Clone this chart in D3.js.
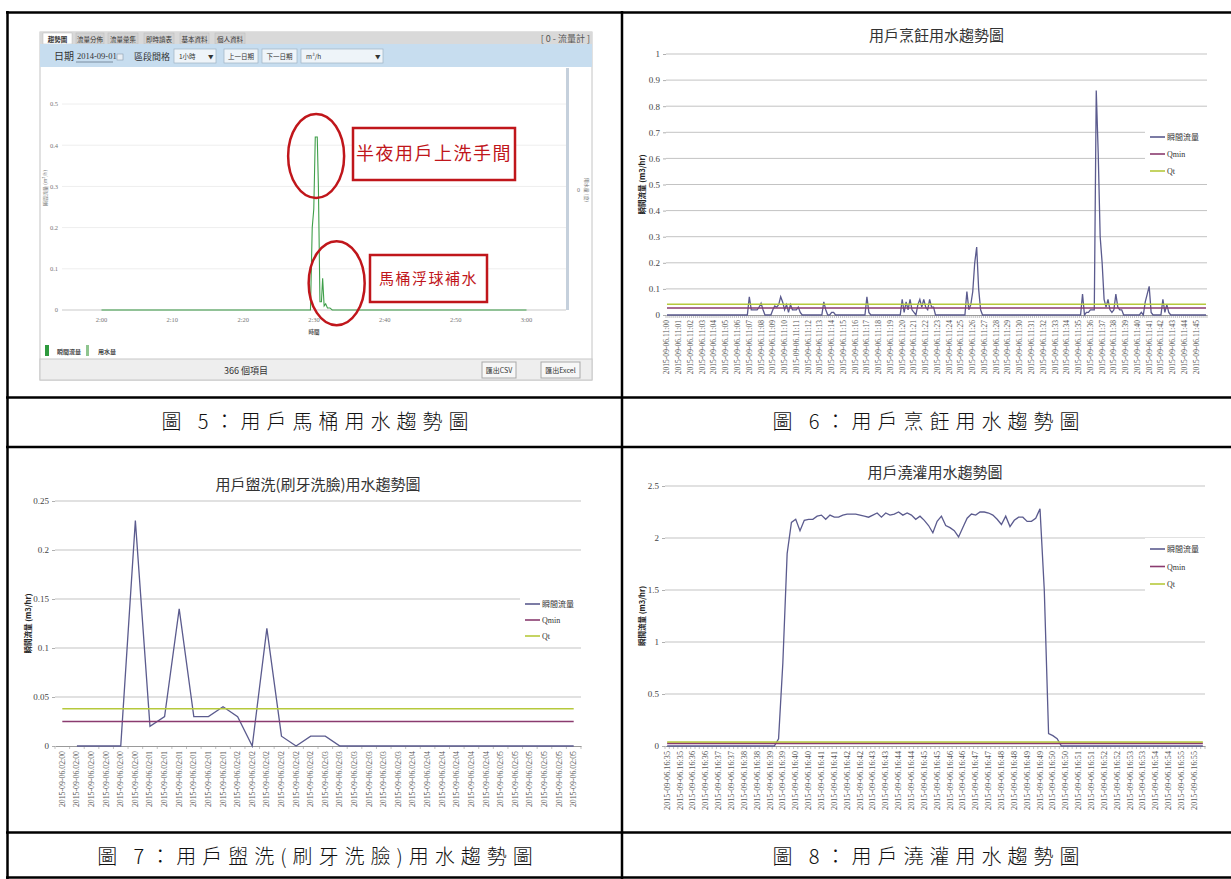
<!DOCTYPE html>
<html>
<head>
<meta charset="utf-8">
<script src="https://cdn.jsdelivr.net/npm/d3@7"></script>
<style>
  body { margin: 0; background: #fff; }
  svg { display: block; }
</style>
</head>
<body>
<svg width="1231" height="879"></svg>
<script>
var CJK = "'Noto Sans CJK TC', 'Noto Sans', sans-serif";
var SERIF = "'Liberation Serif', 'DejaVu Serif', serif";

// ---------- 圖5 data (web screenshot) ----------
var tabNames = ["趨勢圖", "流量分佈", "流量彙集", "即時讀表", "基本資料", "個人資料"];
var toiletTickMinutes = [0, 10, 20, 30, 40, 50, 60];
var toiletTickLabels = ["2:00", "2:10", "2:20", "2:30", "2:40", "2:50", "3:00"];
var toiletTicksY = [0, 0.1, 0.2, 0.3, 0.4, 0.5];
var toiletMinutes = [0, 29.5, 29.75, 29.97, 30.18, 30.46, 30.62, 30.84, 31.05, 31.22, 31.43, 31.65, 31.9, 32.25, 32.57, 60];
var toiletFlow    = [0, 0,    0.2,   0.245, 0.42,  0.42,  0.3,   0.02,  0.02,  0.077, 0.01,  0.015, 0.005, 0.005, 0,     0];
var toiletNotes = ["半夜用戶上洗手間", "馬桶浮球補水"];
var toiletNoteMinutes = [30.3, 33.2];
var toiletNoteValues = [0.374, 0.065];

// ---------- shared ----------
var seriesNames = ["瞬間流量", "Qmin", "Qt"];
var datePrefix = "2015-09-06.";

// ---------- 圖6 用戶烹飪 ----------
var cookTicksY = [0, 0.1, 0.2, 0.3, 0.4, 0.5, 0.6, 0.7, 0.8, 0.9, 1];
var cookLabels = ["11:00","11:01","11:02","11:03","11:04","11:05","11:06","11:07","11:08","11:09",
  "11:10","11:11","11:12","11:13","11:14","11:15","11:16","11:17","11:18","11:19",
  "11:20","11:21","11:22","11:23","11:24","11:25","11:26","11:27","11:28","11:29",
  "11:30","11:31","11:32","11:33","11:34","11:35","11:36","11:37","11:38","11:39",
  "11:40","11:41","11:42","11:43","11:44","11:45"];
var cookFlow = [
  0,0,0,0,0,0, 0,0,0,0,0,0,
  0,0,0,0,0,0, 0,0,0,0,0,0,
  0,0,0,0,0,0, 0,0,0,0,0,0,
  0,0,0,0,0,0, 0.07,0.02,0.02,0.02,0.02,0.03,
  0.045,0.02,0,0,0,0, 0.02,0.035,0.03,0.04,0.07,0.05,
  0.02,0.04,0.01,0.04,0.02,0.02, 0.02,0.03,0.01,0,0,0,
  0,0,0,0,0,0, 0,0,0.05,0.02,0,0,
  0.01,0.01,0,0,0,0, 0,0,0,0,0,0,
  0,0,0,0,0,0, 0.07,0.01,0,0,0,0,
  0,0,0,0,0,0, 0,0,0,0,0,0,
  0.06,0.01,0.05,0.02,0.06,0.02, 0.01,0,0.04,0.06,0.03,0.06,
  0.03,0.02,0.06,0.03,0.03,0, 0,0,0,0,0,0,
  0,0,0,0,0,0, 0,0,0,0.09,0.02,0.04,
  0.09,0.2,0.26,0.1,0.02,0, 0,0,0,0,0,0,
  0,0,0,0,0,0, 0,0,0,0,0,0,
  0,0,0,0,0,0, 0,0,0,0,0,0,
  0,0,0,0,0,0, 0,0,0,0,0,0,
  0,0,0,0,0,0, 0,0,0.08,0,0.01,0.01,
  0.02,0.02,0.02,0.86,0.62,0.3, 0.2,0.06,0.03,0.06,0.02,0.01,
  0.02,0.08,0.03,0.02,0.02,0, 0,0,0,0,0,0,
  0,0,0.01,0,0.05,0.08, 0.11,0.01,0,0,0,0,
  0,0.06,0.01,0.04,0.01,0, 0,0,0,0,0,0,
  0,0,0,0,0,0, 0,0,0,0,0,0
];
var cookQmin = 0.027;
var cookQt = 0.041;

// ---------- 圖7 用戶盥洗 ----------
var washTicksY = [0, 0.05, 0.1, 0.15, 0.2, 0.25];
var washLabels = ["02:00","02:00","02:00","02:00","02:00","02:00",
  "02:01","02:01","02:01","02:01","02:01","02:01",
  "02:02","02:02","02:02","02:02","02:02","02:02",
  "02:03","02:03","02:03","02:03","02:03","02:03",
  "02:04","02:04","02:04","02:04","02:04","02:04",
  "02:05","02:05","02:05","02:05","02:05","02:05"];
var washFlow = [null,0,0,0,0,0.23,0.02,0.03,0.14,0.03,0.03,0.04,0.03,0,0.12,0.01,0,0.01,0.01,0,
  0,0,0,0,0,0,0,0,0,0,0,0,0,0,0,0];
var washQmin = 0.025;
var washQt = 0.038;

// ---------- 圖8 用戶澆灌 ----------
var gardenTicksY = [0, 0.5, 1, 1.5, 2, 2.5];
var gardenLabels = ["16:35","16:35","16:36","16:36","16:37","16:37","16:38","16:38","16:39","16:39",
  "16:40","16:40","16:41","16:41","16:42","16:42","16:43","16:43","16:44","16:44",
  "16:45","16:45","16:46","16:46","16:47","16:47","16:48","16:48","16:49","16:49",
  "16:50","16:50","16:51","16:51","16:52","16:52","16:53","16:53","16:54","16:54",
  "16:55","16:55"];
var gardenFlow = [
  0,0,0,0,0,0, 0,0,0,0,0,0,
  0,0,0,0,0,0, 0,0,0,0,0,0,
  0,0,0.07,0.8,1.85,2.15, 2.18,2.07,2.17,2.18,2.18,2.21,
  2.22,2.18,2.22,2.2,2.2,2.22, 2.23,2.23,2.23,2.22,2.21,2.2,
  2.22,2.24,2.2,2.24,2.22,2.23, 2.25,2.22,2.24,2.22,2.18,2.21,
  2.17,2.12,2.05,2.16,2.21,2.12, 2.1,2.07,2.01,2.1,2.19,2.23,
  2.22,2.25,2.25,2.24,2.22,2.18, 2.13,2.21,2.11,2.17,2.2,2.2,
  2.16,2.16,2.19,2.28,1.5,0.12, 0.1,0.07,0,0,0,0,
  0,0,0,0,0,0, 0,0,0,0,0,0,
  0,0,0,0,0,0, 0,0,0,0,0,0,
  0,0,0,0,0,0
];
var gardenQmin = 0.025;
var gardenQt = 0.038;

var captions = ["圖 5：用戶馬桶用水趨勢圖", "圖 6：用戶烹飪用水趨勢圖", "圖 7：用戶盥洗(刷牙洗臉)用水趨勢圖", "圖 8：用戶澆灌用水趨勢圖"];

var svg = d3.select("svg");
svg.append("rect").attr("width", 1231).attr("height", 879).attr("fill", "#fff");

// ================= 圖5 screenshot panel =================
function toiletPanel() {
  var p = svg.append("g");
  p.append("rect").attr("x", 40).attr("y", 32).attr("width", 552).attr("height", 348)
    .attr("fill", "#fff").attr("stroke", "#c4c4c4");
  // tab bar
  p.append("rect").attr("x", 40).attr("y", 32).attr("width", 552).attr("height", 12).attr("fill", "#d9d9d9");
  var tabX = [43, 76, 108, 144, 180, 215];
  var tabW = [29, 28, 30, 30, 29, 30];
  p.selectAll(".tab").data(tabNames).enter().append("rect")
    .attr("x", function(d, i) { return tabX[i]; }).attr("y", 33)
    .attr("width", function(d, i) { return tabW[i]; }).attr("height", 11)
    .attr("fill", function(d, i) { return i === 0 ? "#ffffff" : "#d2d2d2"; })
    .attr("stroke", "#bdbdbd").attr("stroke-width", 0.5);
  p.selectAll(".tabt").data(tabNames).enter().append("text")
    .attr("x", function(d, i) { return tabX[i] + tabW[i] / 2; }).attr("y", 41.5)
    .attr("text-anchor", "middle").attr("font-family", CJK).attr("font-size", 6.5)
    .attr("font-weight", function(d, i) { return i === 0 ? "bold" : "normal"; })
    .attr("fill", "#333").text(function(d) { return d; });
  p.append("text").attr("x", 590).attr("y", 42).attr("text-anchor", "end")
    .attr("font-family", CJK).attr("font-size", 9).attr("fill", "#555").text("[ 0 - 流量計 ]");

  // toolbar
  p.append("rect").attr("x", 40).attr("y", 44).attr("width", 552).attr("height", 23).attr("fill", "#c7ddef");
  p.append("text").attr("x", 54).attr("y", 59.5).attr("font-family", CJK).attr("font-size", 10)
    .attr("fill", "#333").text("日期");
  p.append("text").attr("x", 77).attr("y", 59).attr("font-family", SERIF).attr("font-size", 8.5)
    .attr("fill", "#333").text("2014-09-01");
  p.append("line").attr("x1", 76).attr("x2", 113).attr("y1", 62).attr("y2", 62).attr("stroke", "#7a8da0");
  p.append("rect").attr("x", 117).attr("y", 54).attr("width", 6).attr("height", 6)
    .attr("fill", "#e8eef4").attr("stroke", "#8b9bab").attr("stroke-width", 0.6);
  p.append("text").attr("x", 134).attr("y", 59.5).attr("font-family", CJK).attr("font-size", 9)
    .attr("fill", "#333").text("區段間格");
  var boxes = [[174, 42, "1小時", true], [224, 34, "上一日期", false], [262, 35, "下一日期", false], [301, 82, "m³/h", true]];
  boxes.forEach(function(b) {
    p.append("rect").attr("x", b[0]).attr("y", 49).attr("width", b[1]).attr("height", 14)
      .attr("fill", "#eef4f9").attr("stroke", "#9fb2c4").attr("stroke-width", 0.7);
    p.append("text").attr("x", b[3] ? b[0] + 5 : b[0] + b[1] / 2).attr("y", 58.5)
      .attr("text-anchor", b[3] ? "start" : "middle").attr("font-family", CJK).attr("font-size", 6.5)
      .attr("fill", "#333").text(b[2]);
    if (b[3]) p.append("text").attr("x", b[0] + b[1] - 8).attr("y", 58.5).attr("font-family", CJK)
      .attr("font-size", 5.5).attr("fill", "#333").text("▼");
  });

  var tx = d3.scaleLinear().domain([0, 60]).range([101.5, 526.5]);
  var ty = d3.scaleLinear().domain([0, 0.5]).range([310, 104]);

  p.selectAll(".tg").data(toiletTicksY).enter().append("line")
    .attr("x1", 62).attr("x2", 566).attr("y1", function(d) { return ty(d); }).attr("y2", function(d) { return ty(d); })
    .attr("stroke", function(d) { return d === 0 ? "#c9c9c9" : "#eeeeee"; });
  p.selectAll(".tyl").data(toiletTicksY).enter().append("text")
    .attr("x", 58).attr("y", function(d) { return ty(d) + 2.3; }).attr("text-anchor", "end")
    .attr("font-family", SERIF).attr("font-size", 6.5).attr("fill", "#777").text(function(d) { return d; });
  p.selectAll(".txl").data(toiletTickMinutes).enter().append("text")
    .attr("x", function(d) { return tx(d); }).attr("y", 322).attr("text-anchor", "middle")
    .attr("font-family", SERIF).attr("font-size", 6.5).attr("fill", "#777")
    .text(function(d, i) { return toiletTickLabels[i]; });
  p.append("text").attr("x", tx(30)).attr("y", 334).attr("text-anchor", "middle")
    .attr("font-family", CJK).attr("font-size", 5.5).attr("font-weight", "bold").attr("fill", "#555").text("時間");
  p.append("text").attr("transform", "translate(47,188) rotate(-90)").attr("text-anchor", "middle")
    .attr("font-family", CJK).attr("font-size", 5).attr("fill", "#777").text("瞬間流量 (m³/h)");
  // right axis
  p.append("rect").attr("x", 566).attr("y", 68).attr("width", 3).attr("height", 242).attr("fill", "#c5d0dc");
  p.append("text").attr("x", 577).attr("y", 192).attr("font-family", SERIF).attr("font-size", 6)
    .attr("fill", "#777").text("0");
  p.append("text").attr("transform", "translate(585,190) rotate(90)").attr("text-anchor", "middle")
    .attr("font-family", CJK).attr("font-size", 5).attr("fill", "#777").text("用水量 (度)");

  var tline = d3.line().x(function(d, i) { return tx(toiletMinutes[i]); }).y(function(d) { return ty(d); });
  p.append("path").datum(toiletFlow).attr("d", tline).attr("fill", "none")
    .attr("stroke", "#3f9f4a").attr("stroke-width", 1.1);

  // annotations
  var boxRect = [[353, 128, 162, 52], [370, 255, 117, 47]];
  var noteSize = [18, 15];
  toiletNotes.forEach(function(t, i) {
    p.append("ellipse").attr("cx", tx(toiletNoteMinutes[i])).attr("cy", ty(toiletNoteValues[i]))
      .attr("rx", 28).attr("ry", 42).attr("fill", "none").attr("stroke", "#c0161b").attr("stroke-width", 2.5);
    var b = boxRect[i];
    p.append("rect").attr("x", b[0]).attr("y", b[1]).attr("width", b[2]).attr("height", b[3])
      .attr("fill", "#fff").attr("stroke", "#c0161b").attr("stroke-width", 2.5);
    p.append("text").attr("x", b[0] + b[2] / 2).attr("y", b[1] + b[3] / 2 + noteSize[i] * 0.36)
      .attr("text-anchor", "middle").attr("font-family", CJK).attr("font-size", noteSize[i])
      .attr("letter-spacing", 1.5).attr("fill", "#c0161b").text(t);
  });

  // legend
  p.append("rect").attr("x", 45).attr("y", 345).attr("width", 4).attr("height", 11).attr("fill", "#2e9a3e");
  p.append("text").attr("x", 57).attr("y", 354).attr("font-family", CJK).attr("font-size", 6)
    .attr("font-weight", "bold").attr("fill", "#444").text("瞬間流量");
  p.append("rect").attr("x", 86).attr("y", 345).attr("width", 3).attr("height", 11).attr("fill", "#8fc58f");
  p.append("text").attr("x", 98).attr("y", 354).attr("font-family", CJK).attr("font-size", 6)
    .attr("font-weight", "bold").attr("fill", "#444").text("用水量");

  // footer
  p.append("rect").attr("x", 40).attr("y", 359).attr("width", 552).attr("height", 21)
    .attr("fill", "#eeeeee").attr("stroke", "#c8c8c8");
  p.append("text").attr("x", 246).attr("y", 374).attr("text-anchor", "middle").attr("font-family", CJK)
    .attr("font-size", 9).attr("fill", "#333").text("366 個項目");
  [[482, 34, "匯出CSV"], [541, 39, "匯出Excel"]].forEach(function(b) {
    p.append("rect").attr("x", b[0]).attr("y", 362).attr("width", b[1]).attr("height", 16)
      .attr("fill", "#f7f7f7").attr("stroke", "#a9a9a9");
    p.append("text").attr("x", b[0] + b[1] / 2).attr("y", 373).attr("text-anchor", "middle")
      .attr("font-family", CJK).attr("font-size", 7).attr("fill", "#333").text(b[2]);
  });
}
toiletPanel();

// ================= Excel-style line charts =================
var lineColors = ["#5b5b8e", "#8a3b6f", "#b6c93c"];

function excelChart(c) {
  var g = svg.append("g");
  var n = c.values.length;
  var x = d3.scaleBand().domain(d3.range(n)).range([c.left, c.right]);
  var cx = function(i) { return x(i) + x.bandwidth() / 2; };
  var y = d3.scaleLinear().domain([0, c.yMax]).range([c.bottom, c.top]);

  g.append("text").attr("x", (c.left + c.right) / 2).attr("y", c.titleY).attr("text-anchor", "middle")
    .attr("font-family", CJK).attr("font-size", 15).attr("fill", "#333").text(c.title);

  g.selectAll(".grid").data(c.yTicks.slice(1)).enter().append("line")
    .attr("x1", c.left).attr("x2", c.right)
    .attr("y1", function(d) { return y(d); }).attr("y2", function(d) { return y(d); })
    .attr("stroke", "#c3c3c3");

  var ya = g.append("g").attr("transform", "translate(" + c.left + ",0)")
    .call(d3.axisLeft(y).tickValues(c.yTicks).tickSize(3).tickPadding(3).tickFormat(String));
  ya.select(".domain").remove();
  ya.selectAll(".tick line").attr("stroke", "#b0b0b0");
  ya.selectAll("text").attr("font-family", SERIF).attr("font-size", 9).attr("fill", "#444");

  g.append("text").attr("transform", "translate(" + c.yTitleX + "," + (c.top + c.bottom) / 2 + ") rotate(-90)")
    .attr("text-anchor", "middle").attr("font-family", CJK).attr("font-size", 7.5).attr("font-weight", "bold")
    .attr("fill", "#222").text("瞬間流量  (m3/hr)");

  // category axis
  var xa = g.append("g").attr("transform", "translate(0," + c.bottom + ")")
    .call(d3.axisBottom(x).tickValues(d3.range(0, n, c.labelEvery)).tickSize(0)
      .tickFormat(function(d) { return datePrefix + c.labels[d / c.labelEvery]; }));
  xa.select(".domain").attr("stroke", "#9a9a9a");
  xa.selectAll("text").attr("font-family", SERIF).attr("font-size", c.labelSize).attr("fill", "#555")
    .attr("transform", "rotate(-90)").attr("text-anchor", "end").attr("x", -5).attr("y", 0).attr("dy", "0.32em");
  g.selectAll(".mt").data(d3.range(n + 1)).enter().append("line")
    .attr("x1", function(i) { return i < n ? x(i) : c.right; }).attr("x2", function(i) { return i < n ? x(i) : c.right; })
    .attr("y1", c.bottom).attr("y2", c.bottom + 3).attr("stroke", "#9a9a9a").attr("stroke-width", 0.6);

  var line = d3.line().defined(function(d) { return d != null; })
    .x(function(d, i) { return cx(i); }).y(function(d) { return y(d); });
  g.append("path").datum(c.values).attr("d", line).attr("fill", "none")
    .attr("stroke", lineColors[0]).attr("stroke-width", 1.3);
  [c.qmin, c.qt].forEach(function(q, k) {
    g.append("line").attr("x1", cx(0)).attr("x2", cx(n - 1)).attr("y1", y(q)).attr("y2", y(q))
      .attr("stroke", lineColors[k + 1]).attr("stroke-width", 1.6);
  });

  // legend
  var lg = g.append("g");
  lg.append("rect").attr("x", c.legendX - 5).attr("y", c.legendY - 11).attr("width", c.right - c.legendX + 5)
    .attr("height", 3 * c.legendStep + 4).attr("fill", "#fff");
  seriesNames.forEach(function(s, k) {
    var yy = c.legendY + k * c.legendStep;
    lg.append("line").attr("x1", c.legendX).attr("x2", c.legendX + 15).attr("y1", yy).attr("y2", yy)
      .attr("stroke", lineColors[k]).attr("stroke-width", 1.6);
    lg.append("text").attr("x", c.legendX + 17).attr("y", yy + 3)
      .attr("font-family", k === 0 ? CJK : SERIF).attr("font-size", 8).attr("fill", "#333").text(s);
  });
}

excelChart({ title: "用戶烹飪用水趨勢圖", values: cookFlow, labels: cookLabels, labelEvery: 6, labelSize: 7.6,
  yTicks: cookTicksY, yMax: 1, qmin: cookQmin, qt: cookQt,
  left: 666, right: 1207, top: 54, bottom: 315, titleY: 41, yTitleX: 645,
  legendX: 1150, legendY: 137, legendStep: 17 });

excelChart({ title: "用戶盥洗(刷牙洗臉)用水趨勢圖", values: washFlow, labels: washLabels, labelEvery: 1, labelSize: 7.8,
  yTicks: washTicksY, yMax: 0.25, qmin: washQmin, qt: washQt,
  left: 55, right: 581, top: 501, bottom: 746, titleY: 490, yTitleX: 31,
  legendX: 525, legendY: 604, legendStep: 16 });

excelChart({ title: "用戶澆灌用水趨勢圖", values: gardenFlow, labels: gardenLabels, labelEvery: 3, labelSize: 8.2,
  yTicks: gardenTicksY, yMax: 2.5, qmin: gardenQmin, qt: gardenQt,
  left: 665, right: 1205, top: 486, bottom: 746, titleY: 478, yTitleX: 645,
  legendX: 1150, legendY: 549, legendStep: 17.5 });

// ================= table frame & captions =================
var frame = svg.append("g").attr("stroke", "#000").attr("stroke-width", 2.5);
[12.5, 397.5, 447, 832.5, 877.5].forEach(function(yy) {
  frame.append("line").attr("x1", 6).attr("x2", 1231).attr("y1", yy).attr("y2", yy);
});
[7.5, 622].forEach(function(xx) {
  frame.append("line").attr("x1", xx).attr("x2", xx).attr("y1", 11).attr("y2", 879);
});
var capPos = [[318, 429], [929, 429], [318, 864], [929, 864]];
svg.selectAll(".cap").data(captions).enter().append("text")
  .attr("x", function(d, i) { return capPos[i][0]; }).attr("y", function(d, i) { return capPos[i][1]; })
  .attr("text-anchor", "middle").attr("font-family", CJK).attr("font-size", 20).attr("font-weight", 300)
  .attr("letter-spacing", 6).attr("fill", "#111").text(function(d) { return d; });
</script>
</body>
</html>
